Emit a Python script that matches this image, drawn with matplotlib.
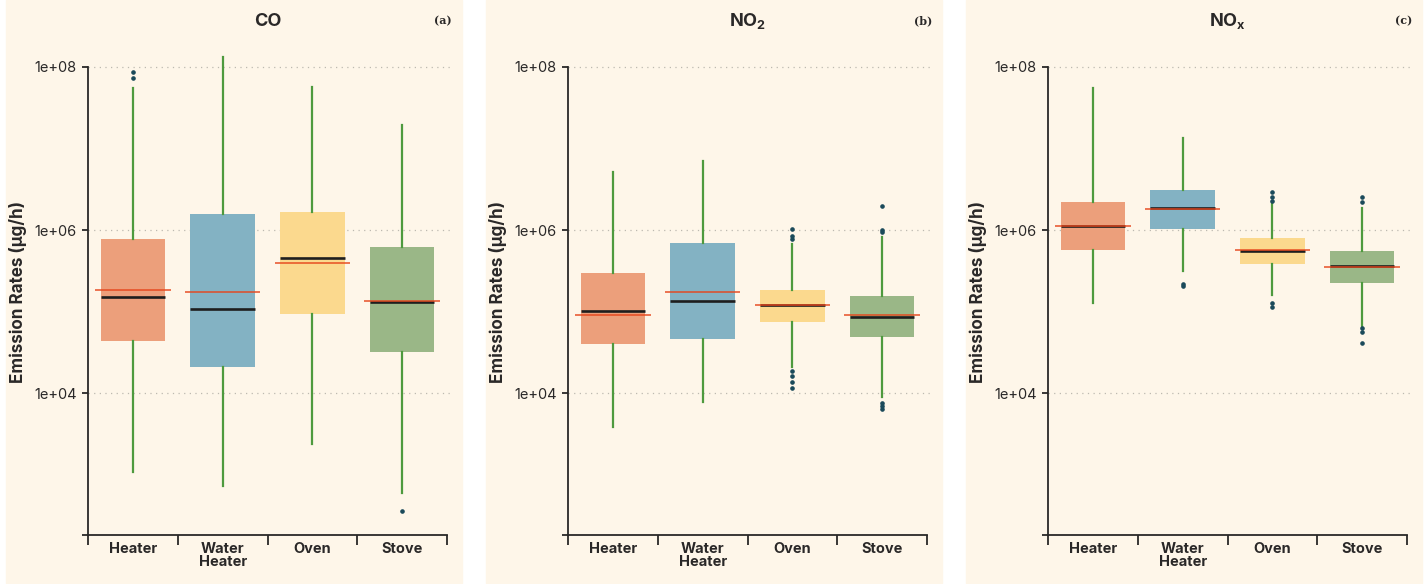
import numpy as np
import matplotlib.pyplot as plt
from matplotlib.patches import Rectangle

# categories and colours
cats = ["Heater", "Water\nHeater", "Oven", "Stove"]
box_colors = ["#ec9f7b", "#83b2c3", "#fbd98e", "#9ab787"]

# CO
co_q1 = [4.3e4, 2.1e4, 9.4e4, 3.2e4]
co_med = [1.52e5, 1.07e5, 4.5e5, 1.31e5]
co_q3 = [7.8e5, 1.57e6, 1.66e6, 6.2e5]
co_lo = [1.08e3, 7.2e2, 2.4e3, 6.0e2]
co_hi = [5.5e7, 1.33e8, 5.7e7, 1.94e7]
co_mean = [1.84e5, 1.75e5, 3.97e5, 1.36e5]
co_fliers = [[7.4e7, 8.7e7], [], [], [3.6e2]]

# NO2
no2_q1 = [4.0e4, 4.6e4, 7.5e4, 4.9e4]
no2_med = [1.01e5, 1.35e5, 1.19e5, 8.6e4]
no2_q3 = [2.97e5, 6.9e5, 1.84e5, 1.55e5]
no2_lo = [3.8e3, 7.8e3, 2.1e4, 9.0e3]
no2_hi = [5.1e6, 7.1e6, 6.7e5, 8.1e5]
no2_mean = [9.1e4, 1.75e5, 1.19e5, 9.1e4]
no2_fliers = [[], [], [7.8e5, 8.5e5, 1.04e6, 1.15e4, 1.35e4, 1.6e4, 1.85e4],
              [1.99e6, 1.0e6, 9.5e5, 7.6e3, 6.9e3, 6.4e3]]

# NOx
nox_q1 = [5.7e5, 1.03e6, 3.87e5, 2.26e5]
nox_med = [1.13e6, 1.86e6, 5.5e5, 3.59e5]
nox_q3 = [2.21e6, 3.1e6, 8.0e5, 5.5e5]
nox_lo = [1.28e5, 3.1e5, 1.59e5, 6.5e4]
nox_hi = [5.5e7, 1.36e7, 2.2e6, 1.84e6]
nox_mean = [1.11e6, 1.83e6, 5.7e5, 3.5e5]
nox_fliers = [[], [2.06e5, 2.19e5], [2.29e6, 2.56e6, 2.9e6, 1.15e5, 1.28e5],
              [2.19e6, 2.56e6, 6.3e4, 5.6e4, 4.1e4]]

ytick_vals = [1e4, 1e6, 1e8]
ytick_labels = ["1e+04", "1e+06", "1e+08"]

panels = [
    ("CO", "(a)", co_q1, co_med, co_q3, co_lo, co_hi, co_mean, co_fliers),
    ("NO$_2$", "(b)", no2_q1, no2_med, no2_q3, no2_lo, no2_hi, no2_mean, no2_fliers),
    ("NO$_x$", "(c)", nox_q1, nox_med, nox_q3, nox_lo, nox_hi, nox_mean, nox_fliers),
]

plt.rcParams['font.family'] = ['Inter', 'DejaVu Sans']
plt.rcParams['mathtext.fontset'] = 'custom'
plt.rcParams['mathtext.rm'] = 'Inter:bold'
plt.rcParams['mathtext.it'] = 'Inter:bold'

W, H = 1427, 584
fig = plt.figure(figsize=(W / 100, H / 100), dpi=100, facecolor="white")
cream = "#fef6e9"
dark = "#2a2828"

y_bot = 10 ** (8 - (535 - 67) / 81.5)
y_top = 10 ** (8 + 17 / 81.5)

for i, (title, tag, q1, med, q3, lo, hi, mean, fl) in enumerate(panels):
    off = 480 * i
    fig.patches.append(Rectangle(((6 + off) / W, 1 / H), 456 / W, 583 / H,
                                 transform=fig.transFigure, color=cream, zorder=-5))
    ax = fig.add_axes([(88 + off) / W, 49 / H, 365 / W, 485 / H])
    ax.set_facecolor("none")
    ax.set_zorder(2)

    stats = []
    for k in range(4):
        stats.append(dict(med=med[k], q1=q1[k], q3=q3[k], whislo=lo[k],
                          whishi=hi[k], fliers=fl[k], mean=mean[k]))
    bp = ax.bxp(stats, positions=[1, 2, 3, 4], widths=0.72, patch_artist=True,
                showcaps=False, showmeans=False,
                boxprops=dict(linewidth=0),
                whiskerprops=dict(color="#4e9a3e", linewidth=1.6),
                medianprops=dict(color="#1e1e1e", linewidth=1.9),
                flierprops=dict(marker="o", markersize=2.3, markerfacecolor="#1b4a5a",
                                markeredgecolor="#1b4a5a"))
    for patch, c in zip(bp["boxes"], box_colors):
        patch.set_facecolor(c)
        patch.set_zorder(2)
    for m in bp["medians"]:
        m.set_zorder(3)
    ax.hlines(mean, np.arange(1, 5) - 0.42, np.arange(1, 5) + 0.42,
              color="#e6461c", alpha=0.8, linewidth=1.3, zorder=4)

    ax.set_yscale("log")
    ax.set_ylim(y_bot, y_top)
    ax.set_xlim(0.5, 0.5 + 365 / 89.75)
    ax.set_yticks([y_bot] + ytick_vals)
    ax.set_yticklabels([""] + ytick_labels)
    ax.yaxis.set_minor_locator(plt.NullLocator())
    ax.tick_params(axis="y", length=4, width=1.3, color=dark, pad=4,
                   labelsize=10.5, labelcolor=dark)
    for v in ytick_vals:
        ax.axhline(v, color="#bdb9b0", linestyle=(0, (1, 3.5)), linewidth=0.9, zorder=1)

    ax.set_xticks([0.5, 1.5, 2.5, 3.5, 4.5])
    ax.set_xticklabels([])
    ax.set_xticks([1, 2, 3, 4], minor=True)
    ax.set_xticklabels(cats, minor=True, fontweight="bold", fontsize=10.5,
                       color=dark, linespacing=0.95)
    ax.tick_params(axis="x", which="major", length=7, width=1.3, color=dark)
    ax.tick_params(axis="x", which="minor", length=0, pad=5)

    for s in ["top", "right"]:
        ax.spines[s].set_visible(False)
    ax.spines["left"].set_bounds(y_bot, 1e8)
    ax.spines["bottom"].set_bounds(0.5, 4.5)
    for s in ["left", "bottom"]:
        ax.spines[s].set_color(dark)
        ax.spines[s].set_linewidth(1.3)

    ax.set_ylabel("Emission Rates (µg/h)", fontweight="bold", fontsize=12.3, color=dark)
    ax.yaxis.set_label_coords(-61 / 365, (535 - 292) / 485)

    fig.text((267.5 + off) / W, (H - 21) / H, title, ha="center", va="center",
             fontsize=13, fontweight="bold", color=dark)
    fig.text((452 + off) / W, (H - 21) / H, tag, ha="right", va="center",
             fontsize=8, family="DejaVu Serif", fontweight="bold", color=dark)

fig.savefig("out.png", dpi=100, facecolor="white")
